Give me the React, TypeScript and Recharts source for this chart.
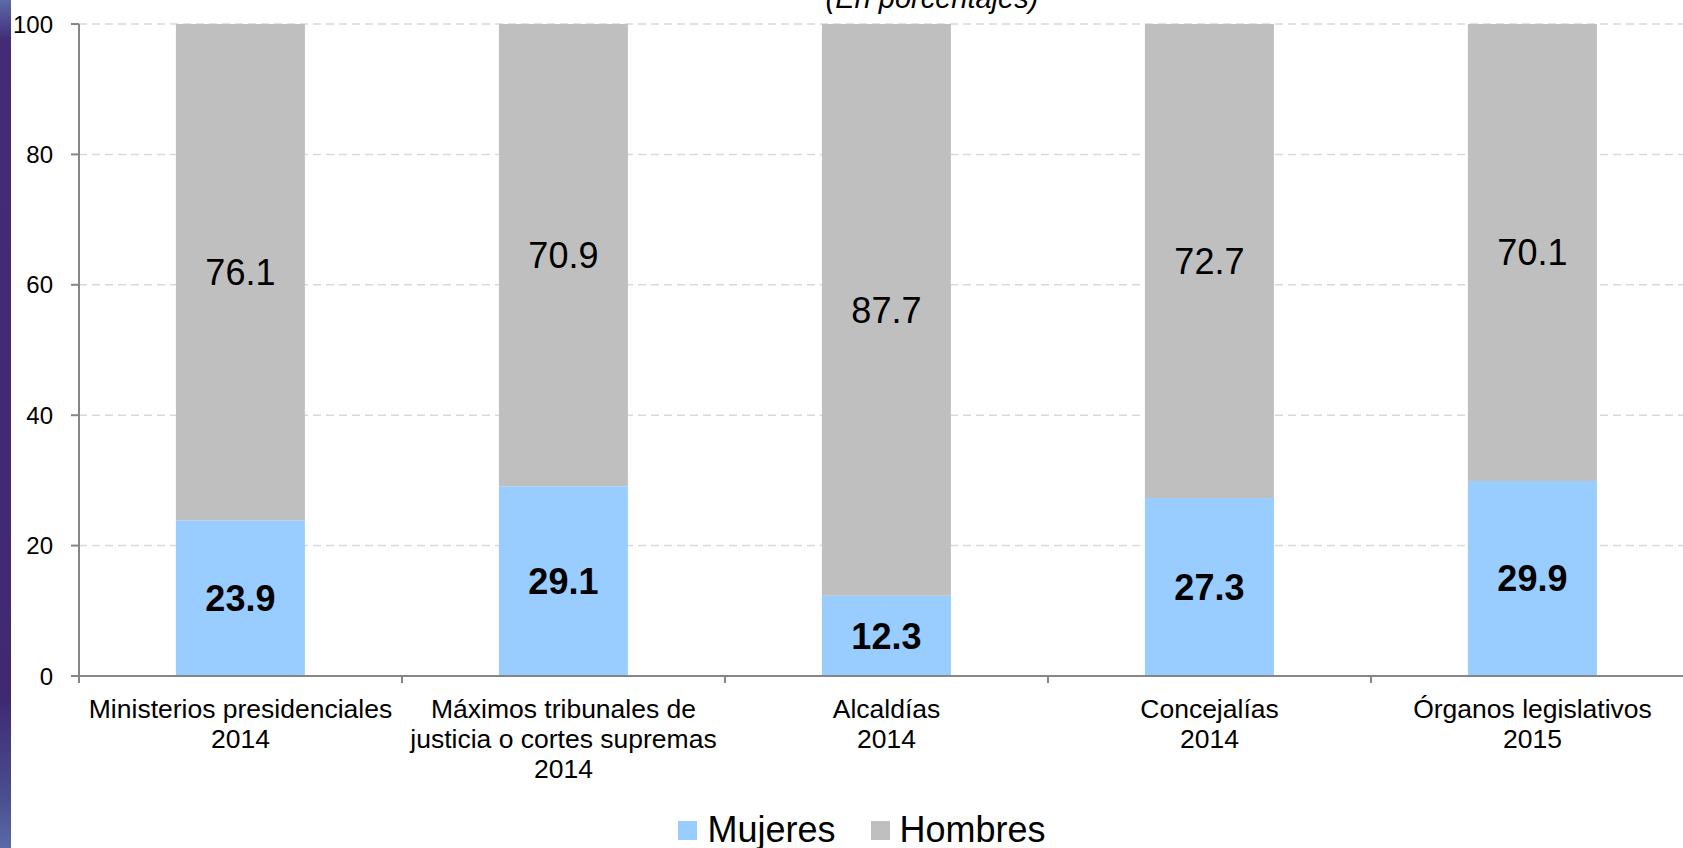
import { BarChart, Bar, XAxis, YAxis, CartesianGrid, Legend, LabelList } from "recharts";
import type { CSSProperties } from "react";

const categories = [
  ["Ministerios presidenciales", "2014"],
  ["Máximos tribunales de", "justicia o cortes supremas", "2014"],
  ["Alcaldías", "2014"],
  ["Concejalías", "2014"],
  ["Órganos legislativos", "2015"],
];
const mujeres = [23.9, 29.1, 12.3, 27.3, 29.9];
const hombres = [76.1, 70.9, 87.7, 72.7, 70.1];
const yTicks = [0, 20, 40, 60, 80, 100];

const data = categories.map((lines, i) => ({
  name: lines.join("\n"),
  Mujeres: mujeres[i],
  Hombres: hombres[i],
}));

const FONT = "'Liberation Sans', Arial, sans-serif";
const PLOT_LEFT = 79;
const PLOT_RIGHT = 1694;
const BAND = (PLOT_RIGHT - PLOT_LEFT) / categories.length;

const CategoryTick = (props: any) => {
  const { x, y, payload } = props;
  const lines = String(payload.value).split("\n");
  return (
    <g>
      <line x1={x - BAND / 2} x2={x - BAND / 2} y1={y} y2={y + 7} stroke="#868686" strokeWidth={2} />
      <line x1={x + BAND / 2} x2={x + BAND / 2} y1={y} y2={y + 7} stroke="#868686" strokeWidth={2} />
      <text x={x} y={y + 42} textAnchor="middle" fontSize={26.5} fontFamily={FONT} fill="#000">
        {lines.map((l, i) => (
          <tspan key={i} x={x} dy={i === 0 ? 0 : 30}>
            {l}
          </tspan>
        ))}
      </text>
    </g>
  );
};

const LegendContent = () => (
  <div style={legendStyle}>
    <span style={{ ...swatch, background: "#99CCFF" }} />
    <span style={{ marginRight: 35 }}>Mujeres</span>
    <span style={{ ...swatch, background: "#BFBFBF" }} />
    <span>Hombres</span>
  </div>
);

export default function App() {
  return (
    <div style={pageStyle}>
      <div style={stripeStyle} />
      <div style={titleStyle}>(En porcentajes)</div>
      <BarChart
        width={1700}
        height={848}
        data={data}
        margin={{ top: 24, right: 6, bottom: 0, left: 0 }}
        barCategoryGap="30%"
      >
        <CartesianGrid vertical={false} stroke="#d9d9d9" strokeDasharray="8 5" strokeWidth={1.5} />
        <XAxis
          dataKey="name"
          interval={0}
          height={136}
          tickSize={0}
          tickMargin={0}
          tick={<CategoryTick />}
          axisLine={{ stroke: "#868686", strokeWidth: 2 }}
        />
        <YAxis
          width={79}
          domain={[0, 100]}
          ticks={yTicks}
          tickSize={8}
          tickMargin={18}
          tick={{ fontSize: 24, fontFamily: FONT, fill: "#000" }}
          axisLine={{ stroke: "#868686", strokeWidth: 2 }}
          tickLine={{ stroke: "#868686", strokeWidth: 2 }}
        />
        <Legend verticalAlign="bottom" content={<LegendContent />} wrapperStyle={{ height: 36 }} />
        <Bar dataKey="Mujeres" stackId="a" fill="#99CCFF" isAnimationActive={false}>
          <LabelList
            dataKey="Mujeres"
            position="center"
            formatter={(v: any) => Number(v).toFixed(1)}
            style={{ fontSize: 36, fontWeight: "bold", fontFamily: FONT, fill: "#000" }}
          />
        </Bar>
        <Bar dataKey="Hombres" stackId="a" fill="#BFBFBF" isAnimationActive={false}>
          <LabelList
            dataKey="Hombres"
            position="center"
            formatter={(v: any) => Number(v).toFixed(1)}
            style={{ fontSize: 36, fontFamily: FONT, fill: "#000" }}
          />
        </Bar>
      </BarChart>
    </div>
  );
}

const pageStyle: CSSProperties = {
  position: "absolute",
  left: 0,
  top: 0,
  width: 1683,
  height: 848,
  overflow: "hidden",
  background: "#fff",
};

const stripeStyle: CSSProperties = {
  position: "absolute",
  left: 0,
  top: 0,
  width: 11,
  height: 848,
  background: "linear-gradient(to bottom, #5b6aa8 0px, #432b78 40px, #3f2a72 700px, #4a4f92 800px, #5a6aa8 848px)",
  zIndex: 2,
};

const titleStyle: CSSProperties = {
  position: "absolute",
  left: 732,
  width: 400,
  top: -16,
  lineHeight: "29px",
  fontSize: 29,
  fontStyle: "italic",
  fontFamily: FONT,
  textAlign: "center",
  color: "#000",
  zIndex: 2,
};

const legendStyle: CSSProperties = {
  display: "flex",
  justifyContent: "center",
  alignItems: "center",
  height: 36,
  lineHeight: "36px",
  paddingLeft: 30,
  fontFamily: FONT,
  fontSize: 36,
  color: "#000",
};

const swatch: CSSProperties = {
  display: "inline-block",
  width: 19,
  height: 19,
  marginRight: 10,
};
